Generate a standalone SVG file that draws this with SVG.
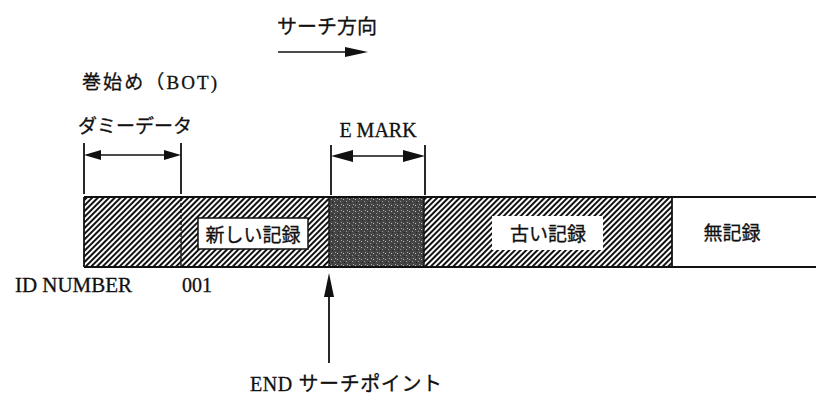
<svg xmlns="http://www.w3.org/2000/svg" width="816" height="397" viewBox="0 0 816 397">
<style>
  .jp { font-family: "Liberation Serif", "Noto Sans CJK JP", serif; fill: #111; stroke: #111; stroke-width: 0.3; }
  .lbl { font-family: "Noto Sans CJK JP", "Liberation Sans", sans-serif; fill: #111; stroke: #111; stroke-width: 0.3; }
  .ln { stroke: #111; stroke-width: 1.8; fill: none; }
  .thin { stroke: #111; stroke-width: 1.4; fill: none; }
  .head { fill: #111; stroke: none; }
</style>
<defs>
  <pattern id="hatch" patternUnits="userSpaceOnUse" width="4" height="4" patternTransform="rotate(45)">
    <rect x="0" y="0" width="4" height="4" fill="#fff"/>
    <rect x="0" y="0" width="2" height="4" fill="#111"/>
  </pattern>
  <pattern id="stipple" patternUnits="userSpaceOnUse" width="6" height="6">
    <rect x="0" y="0" width="6" height="6" fill="#444"/>
    <rect x="1" y="1" width="1" height="1" fill="#bbb"/>
    <rect x="4" y="3" width="1" height="1" fill="#999"/>
    <rect x="2" y="4" width="1" height="1" fill="#222"/>
    <rect x="5" y="0" width="1" height="1" fill="#aaa"/>
  </pattern>
</defs>

<g id="search-direction">
  <text class="jp" x="277" y="34" font-size="20">サーチ方向</text>
  <line class="thin" x1="278" y1="52" x2="350" y2="52"/>
  <polygon class="head" points="345,47 368,52 345,57"/>
</g>

<g id="bot-label">
  <text class="jp" x="82" y="89" font-size="19" textLength="135" lengthAdjust="spacing">巻始め（BOT)</text>
</g>

<g id="tape">
  <rect x="84" y="197" width="588" height="70" fill="url(#hatch)"/>
  <rect x="329" y="197" width="95" height="70" fill="url(#stipple)"/>
  <rect x="672" y="197" width="150" height="70" fill="#fff"/>
  <line class="ln" x1="84" y1="197" x2="816" y2="197"/>
  <line class="ln" x1="84" y1="267" x2="816" y2="267"/>
  <line class="ln" x1="84" y1="197" x2="84" y2="267"/>
  <line class="thin" x1="181" y1="197" x2="181" y2="267" stroke-dasharray="4,2"/>
  <line class="thin" x1="329" y1="197" x2="329" y2="267"/>
  <line class="thin" x1="424" y1="197" x2="424" y2="267"/>
  <line class="ln" x1="672" y1="197" x2="672" y2="267"/>
</g>

<g id="new-record">
  <rect x="198" y="218" width="110" height="31" fill="#fff" stroke="#111" stroke-width="1.5"/>
  <text class="lbl" x="253" y="242" font-size="19" text-anchor="middle">新しい記録</text>
</g>

<g id="old-record">
  <rect x="492" y="216" width="111" height="34" fill="#fff"/>
  <text class="lbl" x="548" y="241" font-size="19" text-anchor="middle">古い記録</text>
</g>

<g id="unrecorded">
  <text class="lbl" x="732" y="240" font-size="19" text-anchor="middle">無記録</text>
</g>

<g id="dummy-data">
  <text class="jp" x="78" y="133" font-size="19">ダミーデータ</text>
</g>

<g id="emark">
  <text class="jp" x="378" y="137" font-size="20" text-anchor="middle">E MARK</text>
</g>

<g id="id-number">
  <text class="jp" x="15" y="292" font-size="20" textLength="117" lengthAdjust="spacingAndGlyphs">ID NUMBER</text>
  <text class="jp" x="182" y="292" font-size="20">001</text>
</g>

<g id="end-search-point">
  <text class="jp" x="250" y="391" font-size="20" textLength="192" lengthAdjust="spacing">END サーチポイント</text>
</g>

<g id="connectors">
  <!-- dummy data dimension -->
  <line class="ln" x1="84" y1="143" x2="84" y2="194"/>
  <line class="ln" x1="181" y1="143" x2="181" y2="194"/>
  <line class="thin" x1="95" y1="155" x2="170" y2="155"/>
  <polygon class="head" points="84,155 101,150 101,160"/>
  <polygon class="head" points="181,155 164,150 164,160"/>
  <!-- E MARK dimension -->
  <line class="ln" x1="331" y1="145" x2="331" y2="195"/>
  <line class="ln" x1="425" y1="145" x2="425" y2="195"/>
  <line class="thin" x1="345" y1="156" x2="410" y2="156"/>
  <polygon class="head" points="331,156 353,150 353,162"/>
  <polygon class="head" points="425,156 403,150 403,162"/>
  <!-- END search point arrow -->
  <line class="ln" x1="329" y1="290" x2="329" y2="363"/>
  <polygon class="head" points="329,273 334,297 324,297"/>
</g>
</svg>
